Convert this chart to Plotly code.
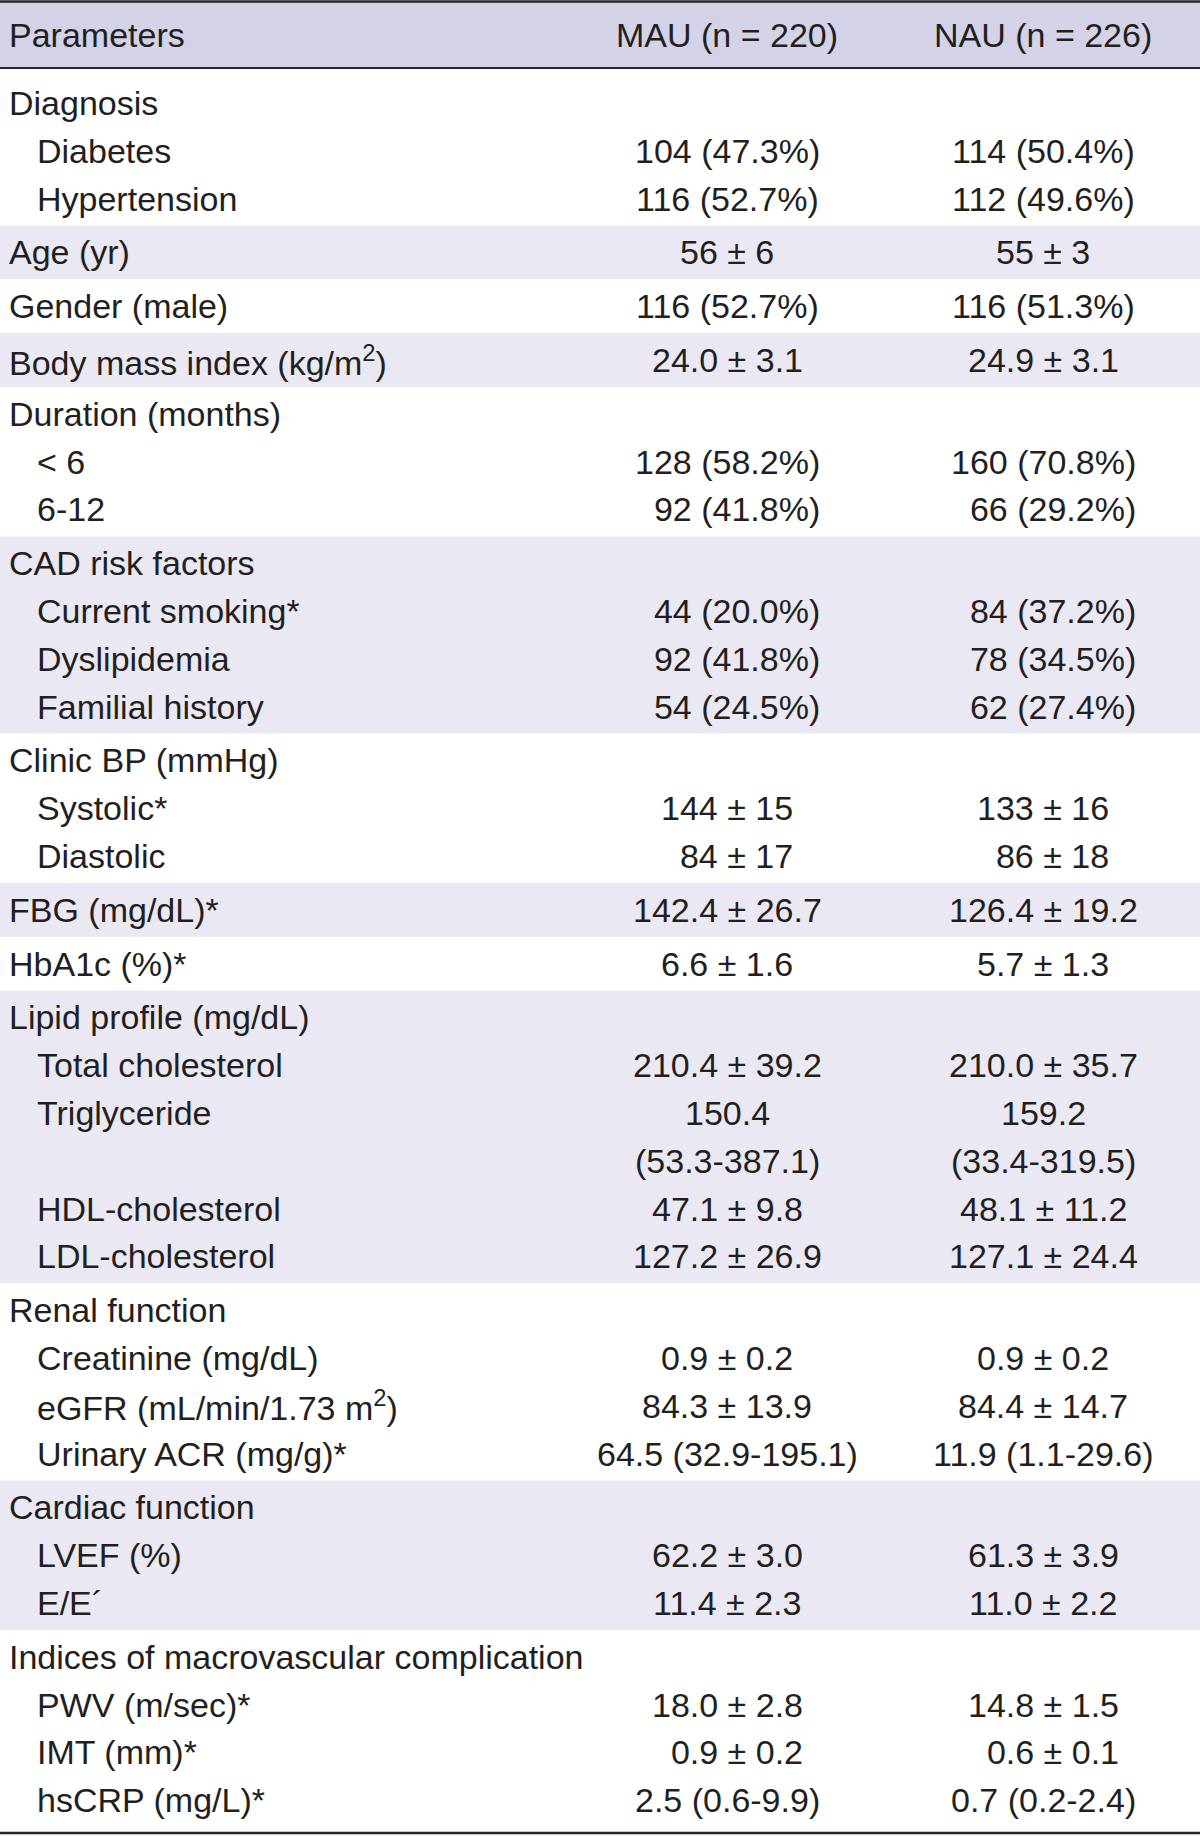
import plotly.graph_objects as go

FS = "\u2007"  # figure space used for digit alignment

header = ["Parameters", "MAU (n = 220)", "NAU (n = 226)"]

labels = [
    "Diagnosis", "Diabetes", "Hypertension",
    "Age (yr)",
    "Gender (male)",
    "Body mass index (kg/m<sup>2</sup>)",
    "Duration (months)", "&lt; 6", "6-12",
    "CAD risk factors", "Current smoking*", "Dyslipidemia", "Familial history",
    "Clinic BP (mmHg)", "Systolic*", "Diastolic",
    "FBG (mg/dL)*",
    "HbA1c (%)*",
    "Lipid profile (mg/dL)", "Total cholesterol", "Triglyceride", "", "HDL-cholesterol", "LDL-cholesterol",
    "Renal function", "Creatinine (mg/dL)", "eGFR (mL/min/1.73 m<sup>2</sup>)", "Urinary ACR (mg/g)*",
    "Cardiac function", "LVEF (%)", "E/E\u00b4",
    "Indices of macrovascular complication", "PWV (m/sec)*", "IMT (mm)*", "hsCRP (mg/L)*",
]

mau = [
    "", "104 (47.3%)", "116 (52.7%)",
    "56 ± 6",
    "116 (52.7%)",
    "24.0 ± 3.1",
    "", "128 (58.2%)", FS + "92 (41.8%)",
    "", FS + "44 (20.0%)", FS + "92 (41.8%)", FS + "54 (24.5%)",
    "", "144 ± 15", FS + "84 ± 17",
    "142.4 ± 26.7",
    "6.6 ± 1.6",
    "", "210.4 ± 39.2", "150.4", "(53.3-387.1)", "47.1 ± 9.8", "127.2 ± 26.9",
    "", "0.9 ± 0.2", "84.3 ± 13.9", "64.5 (32.9-195.1)",
    "", "62.2 ± 3.0", "11.4 ± 2.3",
    "", "18.0 ± 2.8", FS + "0.9 ± 0.2", "2.5 (0.6-9.9)",
]

nau = [
    "", "114 (50.4%)", "112 (49.6%)",
    "55 ± 3",
    "116 (51.3%)",
    "24.9 ± 3.1",
    "", "160 (70.8%)", FS + "66 (29.2%)",
    "", FS + "84 (37.2%)", FS + "78 (34.5%)", FS + "62 (27.4%)",
    "", "133 ± 16", FS + "86 ± 18",
    "126.4 ± 19.2",
    "5.7 ± 1.3",
    "", "210.0 ± 35.7", "159.2", "(33.4-319.5)", "48.1 ± 11.2", "127.1 ± 24.4",
    "", "0.9 ± 0.2", "84.4 ± 14.7", "11.9 (1.1-29.6)",
    "", "61.3 ± 3.9", "11.0 ± 2.2",
    "", "14.8 ± 1.5", FS + "0.6 ± 0.1", "0.7 (0.2-2.4)",
]

indent = [
    0, 1, 1,
    0,
    0,
    0,
    0, 1, 1,
    0, 1, 1, 1,
    0, 1, 1,
    0,
    0,
    0, 1, 1, 1, 1, 1,
    0, 1, 1, 1,
    0, 1, 1,
    0, 1, 1, 1,
]

group = [
    0, 0, 0,
    1,
    2,
    3,
    4, 4, 4,
    5, 5, 5, 5,
    6, 6, 6,
    7,
    8,
    9, 9, 9, 9, 9, 9,
    10, 10, 10, 10,
    11, 11, 11,
    12, 12, 12, 12,
]

# ---- layout geometry ----
W, H = 1200, 1836
FONT = "Liberation Sans, Arial, Helvetica, sans-serif"
FSIZE = 34
TXT = "#231f20"
HEAD_FILL = "#d3d2e7"
BAND_FILL = "#e9e8f3"
LINE_C = "#2a2627"

X_LABEL, X_INDENT, X_MAU, X_NAU = 7, 35, 727, 1043
HEADER_TOP, HEADER_BOT, TABLE_BOT = 1.5, 68, 1833
Y_FIRST, STEP_IN, STEP_GROUP = 103, 47.8, 53.8
TEXT_DY = 0

ys = []
y = Y_FIRST
for i, g in enumerate(group):
    if i > 0:
        y += STEP_GROUP if g != group[i - 1] else STEP_IN
    ys.append(y)

# group bounds
n_groups = max(group) + 1
first = [group.index(g) for g in range(n_groups)]
last = [len(group) - 1 - group[::-1].index(g) for g in range(n_groups)]
bounds = []
for g in range(n_groups):
    top = HEADER_BOT if g == 0 else (ys[last[g - 1]] + ys[first[g]]) / 2
    bot = TABLE_BOT if g == n_groups - 1 else (ys[last[g]] + ys[first[g + 1]]) / 2
    bounds.append((top, bot))

fig = go.Figure()
shapes = []
shapes.append(dict(type="rect", xref="x", yref="y", x0=0, x1=W, y0=HEADER_TOP, y1=HEADER_BOT,
                   fillcolor=HEAD_FILL, line=dict(width=0), layer="below"))
for g, (t, b) in enumerate(bounds):
    if g % 2 == 1:
        shapes.append(dict(type="rect", xref="x", yref="y", x0=0, x1=W, y0=t, y1=b,
                           fillcolor=BAND_FILL, line=dict(width=0), layer="below"))
for yy, w in [(HEADER_TOP, 2.5), (HEADER_BOT, 2.2), (TABLE_BOT, 2.5)]:
    shapes.append(dict(type="line", xref="x", yref="y", x0=0, x1=W, y0=yy, y1=yy,
                       line=dict(color=LINE_C, width=w)))

ann = []
def add(text, x, y, anchor):
    if text:
        ann.append(dict(text=text, x=x, y=y + TEXT_DY, xref="x", yref="y", xanchor=anchor,
                        yanchor="middle", showarrow=False,
                        font=dict(family=FONT, size=FSIZE, color=TXT)))

hy = (HEADER_TOP + HEADER_BOT) / 2
add(header[0], X_LABEL, hy, "left")
add(header[1], X_MAU, hy, "center")
add(header[2], X_NAU, hy, "center")
for i in range(len(labels)):
    add(labels[i], X_INDENT if indent[i] else X_LABEL, ys[i], "left")
    add(mau[i], X_MAU, ys[i], "center")
    add(nau[i], X_NAU, ys[i], "center")

fig.update_layout(
    width=W, height=H, margin=dict(l=0, r=0, t=0, b=0),
    paper_bgcolor="white", plot_bgcolor="white",
    xaxis=dict(range=[0, W], visible=False, fixedrange=True),
    yaxis=dict(range=[H, 0], visible=False, fixedrange=True),
    shapes=shapes, annotations=ann, showlegend=False,
)
fig.write_html("out.html", config={"displayModeBar": False},
               post_script="document.body.style.margin='0';")
